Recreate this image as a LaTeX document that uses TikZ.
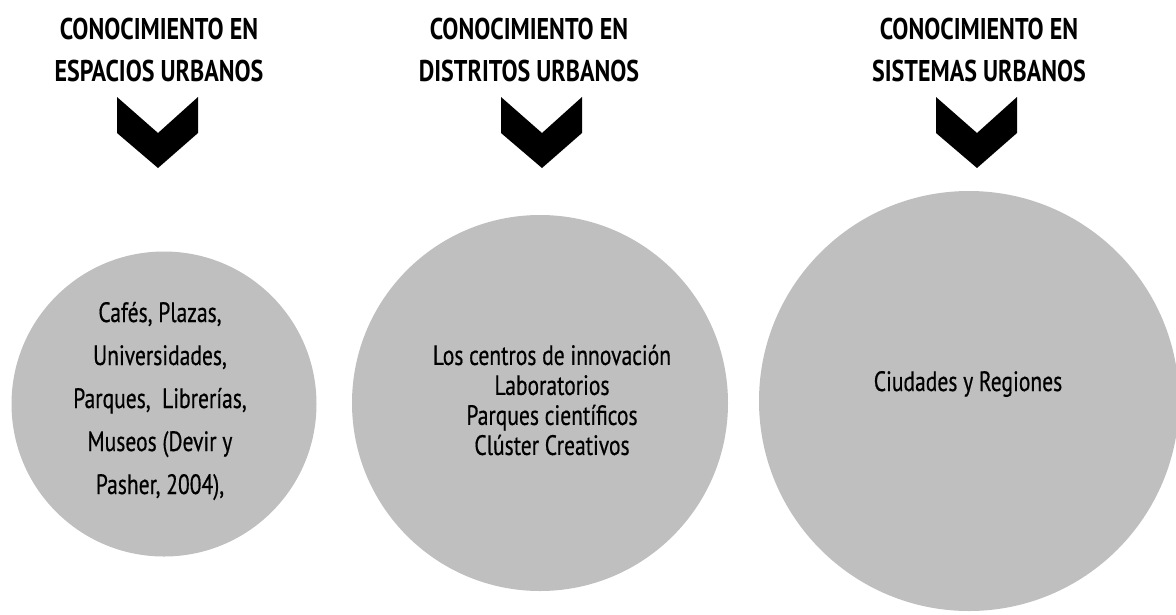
\documentclass[tikz,border=0pt]{standalone}
\usepackage{fontspec}
\setmainfont[FakeStretch=0.77,FakeBold=0.5]{PT Sans}
\newfontfamily\headfont[FakeStretch=0.8]{PT Sans}
\usepackage{tikz}
\usepackage{xcolor}
\usetikzlibrary{shapes}
\definecolor{circlegray}{RGB}{191,191,191}

\begin{document}
\begin{tikzpicture}[x=1pt,y=-1pt,
    heading/.style={align=center,inner sep=0pt,font=\headfont\bfseries\fontsize{30}{42}\selectfont},
    bubble/.style={circle,fill=circlegray,inner sep=0pt},
    bubbletext/.style={align=center,inner sep=0pt}]
		\useasboundingbox (0,0) rectangle (1176,614);
		% headings
		\node[heading] (h1) at (159,50) {CONOCIMIENTO EN\\ESPACIOS URBANOS};
		\node[heading] (h2) at (529,50) {CONOCIMIENTO EN\\DISTRITOS URBANOS};
		\node[heading] (h3) at (979,50) {CONOCIMIENTO EN\\SISTEMAS URBANOS};
		% chevrons
		\foreach \cx in {158,542,977}
			\fill[black] (\cx-41,97) -- (\cx,133) -- (\cx+40,97) -- (\cx+40,133) -- (\cx,168) -- (\cx-41,133) -- cycle;
		% circles
		\node[bubble,minimum size=305pt] (c1) at (164,404) {};
		\node[bubble,minimum size=376pt] (c2) at (540,403) {};
		\node[bubble,minimum size=420pt] (c3) at (969,401) {};
		\node[bubbletext,font=\fontsize{28}{43}\selectfont] (t1) at (160,401)
			{Cafés, Plazas,\\Universidades,\\Parques,\ \ Librerías,\\Museos (Devir y\\Pasher, 2004),};
		\node[bubbletext,font=\fontsize{28}{30}\selectfont] (t2) at (552,400)
			{Los centros de innovación\\Laboratorios\\Parques científicos\\Clúster Creativos};
		\node[bubbletext,font=\fontsize{28}{30}\selectfont] (t3) at (968,384) {Ciudades y Regiones};
		\end{tikzpicture}
\end{document}
